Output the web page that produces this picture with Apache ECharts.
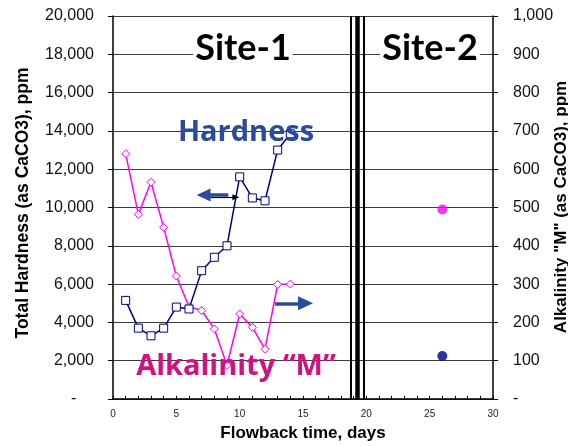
<!DOCTYPE html>
<html>
<head>
<meta charset="utf-8">
<script src="https://cdn.jsdelivr.net/npm/echarts@6/dist/echarts.min.js"></script>
<style>
  html, body { margin: 0; padding: 0; background: #ffffff; }
  #chart { width: 568px; height: 446px; }
</style>
</head>
<body>
<div id="chart"></div>
<script>
// Flowback days sampled at Site-1
const days = [1, 2, 3, 4, 5, 6, 7, 8, 9, 10, 11, 12, 13, 14];
// Total hardness (as CaCO3), ppm - left axis
const hardnessSite1 = [5150, 3700, 3300, 3700, 4800, 4700, 6700, 7400, 8000, 11600, 10500, 10350, 13000, 13850];
// Alkalinity "M" (as CaCO3), ppm - right axis
const alkalinitySite1 = [640, 482, 566, 448, 321, 241, 231, 183, 88, 222, 187, 130, 299, 300];

// Single Site-2 sample
const site2Days = [26];
const hardnessSite2 = [2250];
const alkalinitySite2 = [495];

// Axis ranges
const dayTicks = [0, 5, 10, 15, 20, 25, 30];
const hardnessTicks = [0, 2000, 4000, 6000, 8000, 10000, 12000, 14000, 16000, 18000, 20000];
const alkalinityTicks = [0, 100, 200, 300, 400, 500, 600, 700, 800, 900, 1000];

const NAVY = '#000080';
const MAGENTA = '#FF00FF';
const ARROW_BLUE = '#2B4C9B';
const AXIS_FONT = '"Liberation Sans", Arial, sans-serif';

const pair = (xs, ys) => xs.map((x, i) => [x, ys[i]]);
const fmt = v => (v === 0 ? '-' : v.toLocaleString('en-US'));

const chart = echarts.init(document.getElementById('chart'), null, { renderer: 'canvas' });

const option = {
  animation: false,
  backgroundColor: '#ffffff',
  grid: { left: 113, right: 75, top: 16, bottom: 47, containLabel: false },
  xAxis: {
    type: 'value',
    min: dayTicks[0],
    max: dayTicks[dayTicks.length - 1],
    interval: dayTicks[1] - dayTicks[0],
    axisLine: { show: true, onZero: false, lineStyle: { color: '#000', width: 1.5 } },
    axisTick: { show: true, inside: true, length: 3, lineStyle: { color: '#000' } },
    minorTick: { show: true, splitNumber: 5, length: 3, lineStyle: { color: '#000' } },
    splitLine: { show: false },
    axisLabel: { color: '#222', fontSize: 10, fontFamily: AXIS_FONT, margin: 10 }
  },
  yAxis: [
    {
      type: 'value',
      position: 'left',
      min: hardnessTicks[0],
      max: hardnessTicks[hardnessTicks.length - 1],
      interval: hardnessTicks[1] - hardnessTicks[0],
      axisLine: { show: true, lineStyle: { color: '#000', width: 1.5 } },
      axisTick: { show: true, inside: false, length: 5, lineStyle: { color: '#000' } },
      splitLine: { show: true, lineStyle: { color: '#3a3a3a', width: 1 } },
      axisLabel: {
        color: '#111', fontSize: 16, fontFamily: AXIS_FONT, margin: 19,
        formatter: v => (v === 0 ? '-    ' : fmt(v))
      }
    },
    {
      type: 'value',
      position: 'right',
      min: alkalinityTicks[0],
      max: alkalinityTicks[alkalinityTicks.length - 1],
      interval: alkalinityTicks[1] - alkalinityTicks[0],
      axisLine: { show: true, lineStyle: { color: '#000', width: 1.5 } },
      axisTick: { show: true, inside: false, length: 5, lineStyle: { color: '#000' } },
      splitLine: { show: false },
      axisLabel: { color: '#111', fontSize: 16, fontFamily: AXIS_FONT, margin: 20, formatter: fmt }
    }
  ],
  series: [
    {
      name: 'Hardness',
      type: 'line',
      yAxisIndex: 0,
      data: pair(days, hardnessSite1),
      symbol: 'rect',
      symbolSize: 8,
      lineStyle: { color: NAVY, width: 1.5 },
      itemStyle: { color: '#ffffff', borderColor: NAVY, borderWidth: 1 },
      z: 4
    },
    {
      name: 'Alkalinity',
      type: 'line',
      yAxisIndex: 1,
      data: pair(days, alkalinitySite1),
      symbol: 'diamond',
      symbolSize: 8,
      lineStyle: { color: MAGENTA, width: 1.5 },
      itemStyle: { color: '#ffffff', borderColor: MAGENTA, borderWidth: 1 },
      z: 3
    },
    {
      name: 'Hardness Site-2',
      type: 'scatter',
      yAxisIndex: 0,
      data: pair(site2Days, hardnessSite2),
      symbol: 'circle',
      symbolSize: 10,
      itemStyle: { color: NAVY }
    },
    {
      name: 'Alkalinity Site-2',
      type: 'scatter',
      yAxisIndex: 1,
      data: pair(site2Days, alkalinitySite2),
      symbol: 'circle',
      symbolSize: 10,
      itemStyle: { color: MAGENTA }
    },
    // Triple bar separating the two sites
    {
      type: 'line',
      data: [],
      silent: true,
      markLine: {
        silent: true,
        symbol: ['none', 'none'],
        label: { show: false },
        data: [
          { xAxis: 18.8, lineStyle: { color: '#000', width: 2, type: 'solid' } },
          { xAxis: 19.3, lineStyle: { color: '#000', width: 4.5, type: 'solid' } },
          { xAxis: 19.8, lineStyle: { color: '#000', width: 2, type: 'solid' } }
        ]
      }
    },
    // Arrow pointing hardness to the left axis
    {
      type: 'line',
      yAxisIndex: 0,
      data: [],
      silent: true,
      markLine: {
        silent: true,
        label: { show: false },
        symbol: ['none', 'triangle'],
        symbolSize: [13, 14],
        lineStyle: { color: ARROW_BLUE, width: 3.5, type: 'solid' },
        data: [
          [{ coord: [9.1, 10650] }, { coord: [7.15, 10650] }]
        ]
      }
    },
    // Thin black pointer toward the hardness curve
    {
      type: 'line',
      yAxisIndex: 0,
      data: [],
      silent: true,
      markLine: {
        silent: true,
        label: { show: false },
        symbol: ['none', 'triangle'],
        symbolSize: [6, 7],
        lineStyle: { color: '#000', width: 1.2, type: 'solid' },
        data: [
          [{ coord: [7.7, 10530] }, { coord: [9.7, 10530] }]
        ]
      }
    },
    // Arrow pointing alkalinity to the right axis
    {
      type: 'line',
      yAxisIndex: 1,
      data: [],
      silent: true,
      markLine: {
        silent: true,
        label: { show: false },
        symbol: ['none', 'triangle'],
        symbolSize: [14, 15],
        lineStyle: { color: ARROW_BLUE, width: 3.5, type: 'solid' },
        data: [
          [{ coord: [12.8, 250] }, { coord: [15.2, 250] }]
        ]
      }
    }
  ],
  graphic: [
    {
      type: 'text', z: 100, x: 243, y: 48,
      style: {
        text: 'Site-1', align: 'center', verticalAlign: 'middle',
        font: 'bold 36px Lato, "Open Sans", sans-serif', fill: '#000',
        backgroundColor: '#fff', padding: [0, 2]
      }
    },
    {
      type: 'text', z: 100, x: 430, y: 48,
      style: {
        text: 'Site-2', align: 'center', verticalAlign: 'middle',
        font: 'bold 36px Lato, "Open Sans", sans-serif', fill: '#000',
        backgroundColor: '#fff', padding: [0, 2]
      }
    },
    {
      type: 'text', z: 100, x: 246, y: 133,
      style: {
        text: 'Hardness', align: 'center', verticalAlign: 'middle',
        font: 'bold 29px "Open Sans", sans-serif', fill: ARROW_BLUE
      }
    },
    {
      type: 'text', z: 100, x: 236, y: 367,
      style: {
        text: 'Alkalinity \u201CM\u201D', align: 'center', verticalAlign: 'middle',
        font: 'bold 29px "Open Sans", sans-serif', fill: '#D0127F'
      }
    },
    {
      type: 'text', z: 100, x: 23, y: 203, rotation: Math.PI / 2,
      style: {
        text: 'Total Hardness (as CaCO3), ppm', align: 'center', verticalAlign: 'middle',
        font: 'bold 17.5px "Liberation Sans", Arial, sans-serif', fill: '#000'
      }
    },
    {
      type: 'text', z: 100, x: 561, y: 207, rotation: Math.PI / 2,
      style: {
        text: 'Alkalinity "M" (as CaCO3), ppm', align: 'center', verticalAlign: 'middle',
        font: 'bold 17px "Liberation Sans", Arial, sans-serif', fill: '#000'
      }
    },
    {
      type: 'text', z: 100, x: 303, y: 433,
      style: {
        text: 'Flowback time, days', align: 'center', verticalAlign: 'middle',
        font: 'bold 17px "Liberation Sans", Arial, sans-serif', fill: '#000'
      }
    }
  ]
};

chart.setOption(option);
</script>
</body>
</html>
